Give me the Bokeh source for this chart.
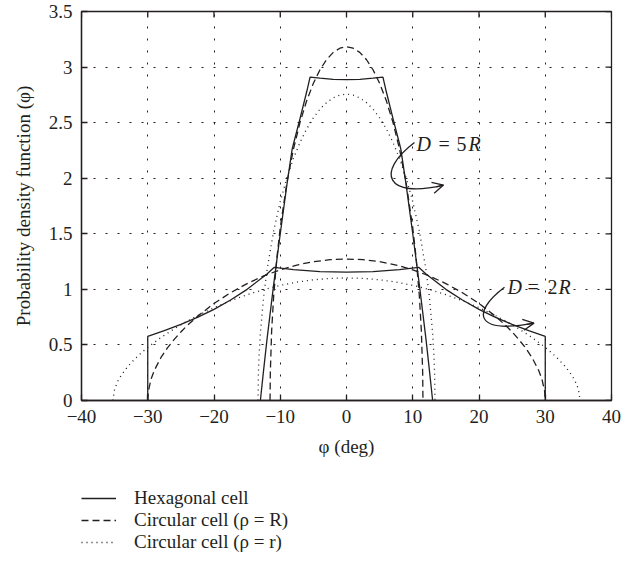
from bokeh.plotting import figure
from bokeh.layouts import column
from bokeh.models import (FixedTicker, Legend, LegendItem, Range1d, Arrow, OpenHead)
from bokeh.core.properties import value
from bokeh.embed import file_html
from bokeh.resources import INLINE

FONT = "Liberation Serif"
INK = "#231f20"

# ---------------- data ----------------
x_ticks = [-40, -30, -20, -10, 0, 10, 20, 30, 40]
x_tick_labels = ["\u221240", "\u221230", "\u221220", "\u221210", "0", "10", "20", "30", "40"]
y_ticks = [0, 0.5, 1, 1.5, 2, 2.5, 3, 3.5]
y_tick_labels = ["0", "0.5", "1", "1.5", "2", "2.5", "3", "3.5"]

# Hexagonal cell, D = 5R
hex5_x = [-13.0, -12.5, -12.0, -11.0, -10.0, -9.0, -8.21, -8.0, -7.0, -6.0, -5.5,
          -4.0, -2.0, 0.0, 2.0, 4.0,
          5.5, 6.0, 7.0, 8.0, 8.21, 9.0, 10.0, 11.0, 12.0, 12.5, 13.0]
hex5_y = [0.0, 0.28, 0.55, 1.04, 1.50, 1.94, 2.26, 2.31, 2.54, 2.78, 2.91,
          2.90, 2.89, 2.887, 2.89, 2.90,
          2.91, 2.78, 2.54, 2.31, 2.26, 1.94, 1.50, 1.04, 0.55, 0.28, 0.0]

# Hexagonal cell, D = 2R
hex2_x = [-30.0, -30.0, -27.5, -25.0, -22.5, -20.0, -17.5, -15.0, -12.0, -10.9,
          -8.0, -4.0, 0.0, 4.0, 8.0,
          10.9, 12.0, 15.0, 17.5, 20.0, 22.5, 25.0, 27.5, 30.0, 30.0]
hex2_y = [0.0, 0.577, 0.628, 0.685, 0.748, 0.820, 0.904, 1.000, 1.139, 1.198,
          1.178, 1.160, 1.155, 1.160, 1.178,
          1.198, 1.139, 1.000, 0.904, 0.820, 0.748, 0.685, 0.628, 0.577, 0.0]

# Circular cell (rho = R), D = 5R
circR5_x = [-11.54, -11.5, -11.3, -11.0, -10.5, -10.0, -9.0, -8.0, -7.0, -6.0, -5.0,
            -4.0, -3.0, -2.0, -1.0, 0.0, 1.0, 2.0, 3.0, 4.0,
            5.0, 6.0, 7.0, 8.0, 9.0, 10.0, 10.5, 11.0, 11.3, 11.5, 11.54]
circR5_y = [0.0, 0.247, 0.625, 0.936, 1.289, 1.555, 1.959, 2.264, 2.505, 2.699, 2.854,
            2.976, 3.068, 3.132, 3.170, 3.183, 3.170, 3.132, 3.068, 2.976,
            2.854, 2.699, 2.505, 2.264, 1.959, 1.555, 1.289, 0.936, 0.625, 0.247, 0.0]

# Circular cell (rho = r), D = 5R
circr5_x = [-13.35, -13.3, -13.2, -13.0, -12.5, -12.0, -11.0, -10.0, -9.0, -8.0, -7.0,
            -6.0, -5.0, -4.0, -3.0, -2.0, -1.0, 0.0, 1.0, 2.0, 3.0, 4.0, 5.0, 6.0,
            7.0, 8.0, 9.0, 10.0, 11.0, 12.0, 12.5, 13.0, 13.2, 13.3, 13.35]
circr5_y = [0.0, 0.235, 0.401, 0.608, 0.939, 1.174, 1.524, 1.790, 2.003, 2.179, 2.324,
            2.445, 2.543, 2.622, 2.681, 2.723, 2.748, 2.757, 2.748, 2.723, 2.681, 2.622, 2.543, 2.445,
            2.324, 2.179, 2.003, 1.790, 1.524, 1.174, 0.939, 0.608, 0.401, 0.235, 0.0]

# Circular cell (rho = R), D = 2R
circR2_x = [-30.0, -29.9, -29.5, -29.0, -28.0, -27.0, -26.0, -25.0, -24.0, -22.5, -20.0,
            -17.5, -15.0, -12.5, -10.0, -7.5, -5.0, -2.5, 0.0, 2.5, 5.0, 7.5, 10.0,
            12.5, 15.0, 17.5, 20.0, 22.5, 24.0, 25.0, 26.0, 27.0, 28.0, 29.0, 29.5, 29.9, 30.0]
circR2_y = [0.0, 0.086, 0.192, 0.272, 0.387, 0.475, 0.550, 0.617, 0.677, 0.757, 0.873,
            0.970, 1.052, 1.121, 1.176, 1.219, 1.249, 1.267, 1.273, 1.267, 1.249, 1.219, 1.176,
            1.121, 1.052, 0.970, 0.873, 0.757, 0.677, 0.617, 0.550, 0.475, 0.387, 0.272, 0.192, 0.086, 0.0]

# Circular cell (rho = r), D = 2R
circr2_x = [-35.26, -35.0, -34.5, -34.0, -33.0, -32.0, -31.0, -30.0, -28.0, -26.0, -25.0,
            -24.0, -22.5, -20.0, -17.5, -15.0, -12.5, -10.0, -7.5, -5.0, -2.5, 0.0,
            2.5, 5.0, 7.5, 10.0, 12.5, 15.0, 17.5, 20.0, 22.5, 24.0, 25.0, 26.0, 28.0,
            30.0, 31.0, 32.0, 33.0, 34.0, 34.5, 35.0, 35.26]
circr2_y = [0.0, 0.103, 0.176, 0.228, 0.307, 0.371, 0.427, 0.478, 0.567, 0.645, 0.681,
            0.715, 0.763, 0.835, 0.898, 0.952, 0.998, 1.036, 1.065, 1.086, 1.099, 1.103,
            1.099, 1.086, 1.065, 1.036, 0.998, 0.952, 0.898, 0.835, 0.763, 0.715, 0.681, 0.645, 0.567,
            0.478, 0.427, 0.371, 0.307, 0.228, 0.176, 0.103, 0.0]

legend_labels = ["Hexagonal cell", "Circular cell (\u03c1 = R)", "Circular cell (\u03c1 = r)"]

X0, X1, Y0, Y1 = -40, 40, 0, 3.5

# ---------------- main figure ----------------
p = figure(width=638, height=470, x_range=Range1d(X0, X1), y_range=Range1d(Y0, Y1),
           output_backend="svg", toolbar_location=None,
           min_border_left=81, min_border_right=27, min_border_top=11, min_border_bottom=70)
p.background_fill_color = "white"
p.border_fill_color = "white"
p.outline_line_color = INK
p.outline_line_width = 1.3

xt = FixedTicker(ticks=x_ticks)
yt = FixedTicker(ticks=y_ticks)

def style_axis(ax):
    ax.axis_line_color = INK
    ax.axis_line_width = 1.3
    ax.major_tick_line_color = INK
    ax.major_tick_line_width = 1.3
    ax.major_tick_in = 6
    ax.major_tick_out = 0
    ax.minor_tick_line_color = None
    ax.major_label_text_font = FONT
    ax.major_label_text_font_size = "19px"
    ax.major_label_text_color = INK
    ax.axis_label_text_font = FONT
    ax.axis_label_text_font_style = "normal"
    ax.axis_label_text_font_size = "19px"
    ax.axis_label_text_color = INK

xa = p.xaxis[0]
xa.ticker = xt
xa.major_label_overrides = {t: l for t, l in zip(x_ticks, x_tick_labels)}
style_axis(xa)
xa.major_label_standoff = 9
xa.axis_label = "\u03c6 (deg)"
xa.axis_label_standoff = 10

ya = p.yaxis[0]
ya.ticker = yt
ya.major_label_overrides = {t: l for t, l in zip(y_ticks, y_tick_labels)}
style_axis(ya)
ya.major_label_standoff = 9
ya.axis_label = "Probability density function (\u03c6)"
ya.axis_label_standoff = 12

for g in (p.xgrid[0], p.ygrid[0]):
    g.grid_line_color = INK
    g.grid_line_dash = "2 10"
    g.grid_line_width = 1
p.xgrid[0].ticker = xt
p.ygrid[0].ticker = yt

# inward ticks on the top and right edges of the box
tick_dy = 6 * (Y1 - Y0) / 389.0
tick_dx = 6 * (X1 - X0) / 530.0
p.segment(x0=x_ticks, y0=[Y1] * len(x_ticks), x1=x_ticks, y1=[Y1 - tick_dy] * len(x_ticks),
          line_color=INK, line_width=1.3)
p.segment(x0=[X1] * len(y_ticks), y0=y_ticks, x1=[X1 - tick_dx] * len(y_ticks), y1=y_ticks,
          line_color=INK, line_width=1.3)

LW = 1.3
DASH = "7 4"
DOT = "1 4"
p.line(hex5_x, hex5_y, line_color=INK, line_width=LW)
p.line(hex2_x, hex2_y, line_color=INK, line_width=LW)
p.line(circR5_x, circR5_y, line_color=INK, line_width=LW, line_dash=DASH)
p.line(circR2_x, circR2_y, line_color=INK, line_width=LW, line_dash=DASH)
p.line(circr5_x, circr5_y, line_color=INK, line_width=LW, line_dash=DOT)
p.line(circr2_x, circr2_y, line_color=INK, line_width=LW, line_dash=DOT)

# ---------------- annotations ----------------
# D = 5R
p.bezier(x0=[10.26], y0=[2.321], x1=[14.64], y1=[1.938],
         cx0=[4.38], cy0=[2.054], cx1=[5.89], cy1=[1.813],
         line_color=INK, line_width=1.3)
p.add_layout(Arrow(end=OpenHead(size=11, line_color=INK, line_width=1.3),
                   x_start=13.58, y_start=1.922, x_end=14.64, y_end=1.938,
                   line_color=INK, line_width=1.3))
# D = 2R
p.bezier(x0=[23.85], y0=[1.018], x1=[28.30], y1=[0.696],
         cx0=[18.72], cy0=[0.786], cx1=[19.47], cy1=[0.598],
         line_color=INK, line_width=1.3)
p.add_layout(Arrow(end=OpenHead(size=11, line_color=INK, line_width=1.3),
                   x_start=27.17, y_start=0.685, x_end=28.30, y_end=0.696,
                   line_color=INK, line_width=1.3))

def label(x, y, parts):
    for txt, off, style in parts:
        p.text(x=[x], y=[y], text=[txt], x_offset=off, text_font=value(FONT),
               text_font_size="20px", text_font_style=style, text_color=INK,
               text_baseline="middle", text_align="left")

label(10.57, 2.304, [("D", 0, "italic"), ("=", 22, "normal"), ("5", 40, "normal"), ("R", 52, "italic")])
label(24.30, 1.022, [("D", 0, "italic"), ("=", 20, "normal"), ("2", 40, "normal"), ("R", 51, "italic")])

# ---------------- legend (own strip below the plot) ----------------
# The strip's frame is aligned with the main frame by the column layout.
# Its y-range lies below all data, so its series lines only feed the legend.
q = figure(width=638, height=92, x_range=Range1d(X0, X1), y_range=Range1d(-20, -19),
           output_backend="svg", toolbar_location=None,
           x_axis_type=None, y_axis_type=None, min_border=0)
q.grid.visible = False
q.outline_line_color = None
q.background_fill_color = "white"
q.border_fill_color = "white"
l1 = q.line(hex5_x, hex5_y, line_color=INK, line_width=LW)
l2 = q.line(circR5_x, circR5_y, line_color=INK, line_width=LW, line_dash=DASH)
l3 = q.line(circr5_x, circr5_y, line_color=INK, line_width=LW, line_dash=DOT)
legend = Legend(items=[LegendItem(label=legend_labels[0], renderers=[l1]),
                       LegendItem(label=legend_labels[1], renderers=[l2]),
                       LegendItem(label=legend_labels[2], renderers=[l3])],
                location=(0, 9))
legend.border_line_color = None
legend.background_fill_alpha = 0
legend.label_text_font = FONT
legend.label_text_font_size = "19px"
legend.label_text_color = INK
legend.glyph_width = 35
legend.glyph_height = 22
legend.label_height = 22
legend.label_standoff = 18
legend.spacing = 0
legend.padding = 0
legend.margin = 0
q.add_layout(legend, "center")

page = column(p, q, spacing=0)
open("out.html", "w").write(file_html(page, INLINE))
